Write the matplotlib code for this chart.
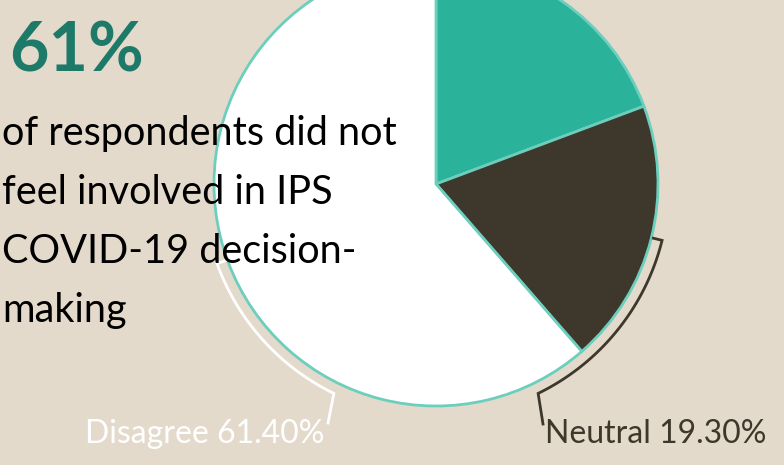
import numpy as np
import matplotlib
matplotlib.use("Agg")
import matplotlib.pyplot as plt

categories = ["Agree", "Neutral", "Disagree"]
values = [19.3, 19.3, 61.4]
colors = ["#2bb29a", "#3d372c", "#ffffff"]
label_texts = ["Neutral 19.30%", "Disagree 61.40%"]
headline = "61%"
body_lines = ["of respondents did not", "feel involved in IPS", "COVID-19 decision-", "making"]

W, H = 784, 465
BG = "#e3dacb"
fig = plt.figure(figsize=(W / 100, H / 100), dpi=100, facecolor=BG)
ax = fig.add_axes([0, 0, 1, 1])
ax.set_facecolor(BG)

cx, cy, R = 436, H - 184, 222
ax.pie(values, colors=colors, startangle=90, counterclock=False,
       center=(cx, cy), radius=R,
       wedgeprops=dict(edgecolor="#6ccfbd", linewidth=2))
ax.set_xlim(0, W)
ax.set_ylim(0, H)
ax.set_aspect("equal")
ax.axis("off")

def pt(ang, r):
    # ang: degrees clockwise from 12 o'clock
    a = np.deg2rad(ang)
    return cx + r * np.sin(a), cy + r * np.cos(a)

def bracket(a0, a1, end_xy, color):
    angs = np.linspace(a0, a1, 100)
    xs, ys = pt(angs, 233)
    tx, ty = pt(a0, 224)
    xs = np.concatenate([[tx], xs, [end_xy[0]]])
    ys = np.concatenate([[ty], ys, [end_xy[1]]])
    ax.plot(xs, ys, color=color, lw=2, solid_joinstyle="miter", zorder=3)

bracket(104, 154, (543, H - 424), "#3d372c")
bracket(250, 206, (328, H - 423), "#ffffff")

font = "Lato"
ax.text(545, H - 443, label_texts[0], color="#3d372c", fontsize=23, family=font,
        ha="left", va="baseline", zorder=5)
ax.text(85, H - 443, label_texts[1], color="#ffffff", fontsize=23, family=font,
        ha="left", va="baseline", zorder=5)

ax.text(9, H - 72, headline, color="#1e7a68", fontsize=49, family=font,
        fontweight="bold", ha="left", va="baseline", zorder=5)
for i, line in enumerate(body_lines):
    ax.text(2, H - (145 + 59 * i), line, color="#000000", fontsize=28.5, family=font,
            ha="left", va="baseline", zorder=5)

fig.savefig("out.png", dpi=100, facecolor=BG)
